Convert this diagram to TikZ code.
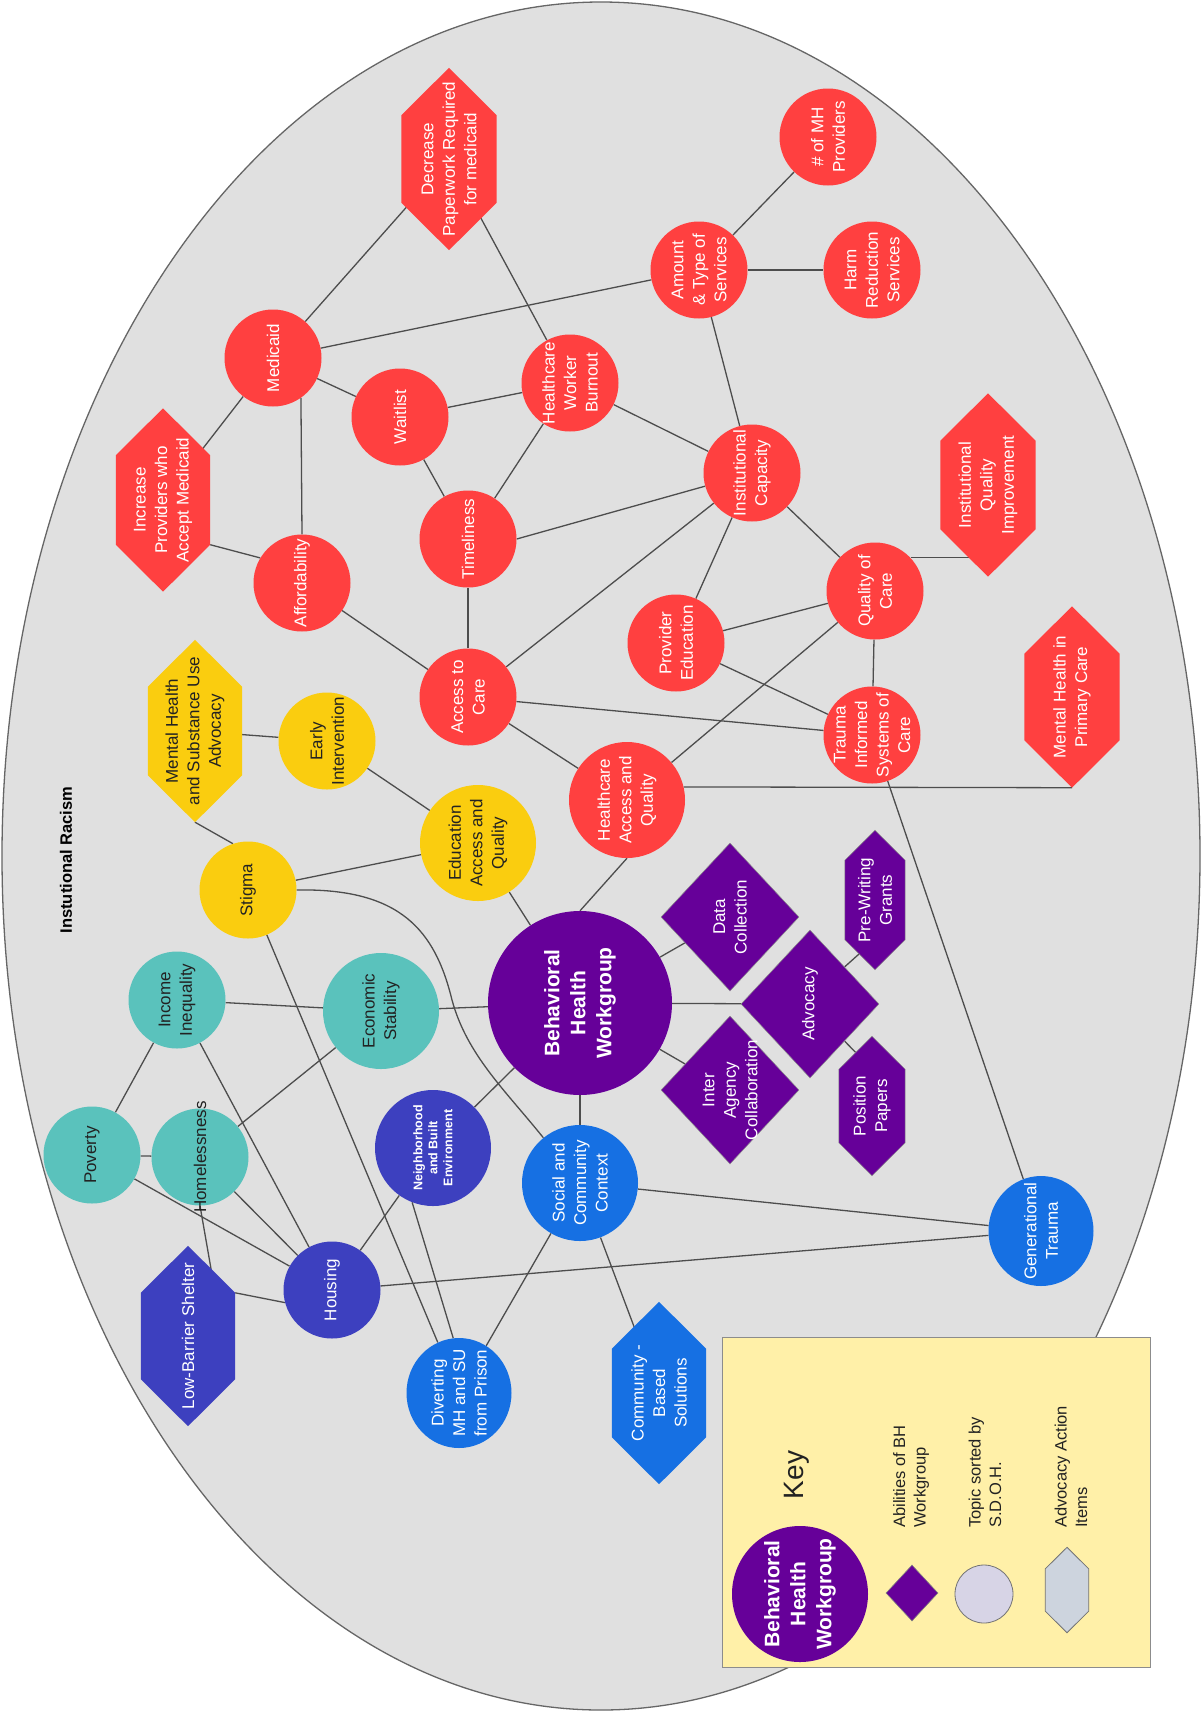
\documentclass[tikz,border=0pt]{standalone}
\usepackage{fontspec}
\setmainfont{Liberation Sans}
\usetikzlibrary{shapes.geometric,calc}
\pgfdeclarelayer{bottom}\pgfdeclarelayer{edges}\pgfdeclarelayer{shapes}
\pgfsetlayers{bottom,edges,shapes,main}
\definecolor{hred}{HTML}{FF4040}
\definecolor{hyellow}{HTML}{FACD0F}
\definecolor{hpurple}{HTML}{660099}
\definecolor{hteal}{HTML}{5AC2BC}
\definecolor{hindigo}{HTML}{3D40BF}
\definecolor{hblue}{HTML}{1670E3}
\definecolor{bggray}{HTML}{E0E0E0}
\definecolor{keyyellow}{HTML}{FFF0A8}
\definecolor{keylav}{HTML}{D7D4E6}
\definecolor{keyhex}{HTML}{CDD4DE}
\definecolor{edgegray}{HTML}{4D4D4D}
\definecolor{darktext}{HTML}{222222}
\tikzset{
  lab/.style={rotate=90, align=center, inner sep=0, font=\fontsize{17}{21.5}\selectfont},
  wl/.style={label={[lab,text=white]center:{#1}}},
  dl/.style={label={[lab,text=darktext]center:{#1}}},
  bl/.style={label={[lab,text=white,font=\bfseries\fontsize{21}{26}\selectfont]center:{#1}}},
  dot/.style={circle, inner sep=0, draw=none, minimum size=#1},
  dot/.default=97,
  dia/.style={diamond, inner sep=0, minimum width=138, minimum height=148, fill=hpurple, draw=black!45, line width=0.5pt},
  conn/.style={draw=edgegray, line width=1.3pt},
  keytext/.style={lab, anchor=west, align=left, text=darktext, font=\fontsize{16.5}{20.5}\selectfont}
}
\newcommand\hexnode[8]{%
  \node[rectangle, inner sep=0, draw=none, minimum width=#4, minimum height={#5-#4}, label={[lab,text=#7]center:{#8}}] (#1) at (#2,#3) {};
  \coordinate (#1-t) at ([yshift={#4*0.5pt}]#1.north);
  \coordinate (#1-b) at ([yshift={-#4*0.5pt}]#1.south);
  \begin{pgfonlayer}{shapes}
  \fill[#6] (#1.south west) -- (#1.north west) -- (#1-t) -- (#1.north east) -- (#1.south east) -- (#1-b) -- cycle;
  \end{pgfonlayer}
}
\begin{document}
\begin{tikzpicture}[x=1pt,y=-1pt]
\useasboundingbox (0,0) rectangle (1203,1717);
\begin{pgfonlayer}{bottom}
\fill[white] (0,0) rectangle (1203,1717);
\draw[fill=bggray, draw=black!60, line width=1.3pt] (601,856) ellipse [x radius=599, y radius=854];
\node[rectangle, anchor=north west, minimum width=428, minimum height=330, fill=keyyellow, draw=black!45, line width=1.2pt] (keybox) at (722,1337) {};
\end{pgfonlayer}

\node[rotate=90, text=black, font=\bfseries\fontsize{16.5}{20}\selectfont] (title) at (66,860) {Instutional Racism};

% red topics
\node[dot, fill=hred, wl={\# of MH\\Providers}] (mhp) at (828,137) {};
\node[dot, fill=hred, wl={Amount\\\& Type of\\Services}] (amt) at (699,270) {};
\node[dot, fill=hred, wl={Harm\\Reduction\\Services}] (harm) at (872,270) {};
\hexnode{dec}{449}{159}{95}{182}{hred}{white}{Decrease\\Paperwork Required\\for medicaid}
\node[dot, fill=hred, wl={Medicaid}] (med) at (273,358) {};
\node[dot, fill=hred, wl={Waitlist}] (wait) at (400,417) {};
\node[dot, fill=hred, wl={Healthcare\\Worker\\Burnout}] (burn) at (570,383) {};
\hexnode{inc}{163}{500}{94}{183}{hred}{white}{Increase\\Providers who\\Accept Medicaid}
\node[dot, fill=hred, wl={Affordability}] (aff) at (302,583) {};
\node[dot, fill=hred, wl={Timeliness}] (time) at (468,539) {};
\node[dot, fill=hred, wl={Access to\\Care}] (acc) at (468,697) {};
\node[dot, fill=hred, wl={Institutional\\Capacity}] (icap) at (752,473) {};
\node[dot, fill=hred, wl={Quality of\\Care}] (qoc) at (875,591) {};
\hexnode{iqi}{988}{485}{95}{183}{hred}{white}{Institutional\\Quality\\Improvement}
\node[dot, fill=hred, wl={Provider\\Education}] (pedu) at (676,643) {};
\node[dot, fill=hred, wl={Trauma\\Informed\\Systems of\\Care}] (tisc) at (872,735) {};
\hexnode{mhpc}{1072}{697}{95}{181}{hred}{white}{Mental Health in\\Primary Care}
\node[dot=116, fill=hred, wl={Healthcare\\Access and\\Quality}] (haq) at (627,800) {};

% yellow topics
\hexnode{mhsu}{195}{731}{94}{182}{hyellow}{darktext}{Mental Health\\and Substance Use\\Advocacy}
\node[dot, fill=hyellow, dl={Early\\Intervention}] (early) at (327,741) {};
\node[dot=116, fill=hyellow, dl={Education\\Access and\\Quality}] (eaq) at (478,843) {};
\node[dot, fill=hyellow, dl={Stigma}] (stig) at (248,890) {};

% purple workgroup
\node[dot=184, fill=hpurple, bl={Behavioral\\Health\\Workgroup}] (bhw) at (580,1003) {};
\node[dia, wl={Data\\Collection}] (data) at (730,917) {};
\node[dia, wl={Advocacy}] (adv) at (810,1004) {};
\node[dia, wl={Inter\\Agency\\Collaboration}] (inter) at (730,1090) {};
\hexnode{pwg}{875}{900}{60}{139}{fill=hpurple,draw=black!45,line width=0.5pt}{white}{Pre-Writing\\Grants}
\hexnode{pos}{872}{1106}{66}{139}{fill=hpurple,draw=black!45,line width=0.5pt}{white}{Position\\Papers}

% teal topics
\node[dot, fill=hteal, dl={Income\\Inequality}] (inq) at (177,1000) {};
\node[dot=116, fill=hteal, dl={Economic\\Stability}] (eco) at (381,1011) {};
\node[dot, fill=hteal, dl={Poverty}] (pov) at (92,1155) {};
\node[dot, fill=hteal, dl={Homelessness}] (home) at (200,1157) {};

% indigo topics
\node[dot=116, fill=hindigo, label={[lab,text=white,font=\bfseries\fontsize{12.5}{15}\selectfont]center:{Neighborhood\\and Built\\Environment}}] (nbe) at (433,1148) {};
\node[dot, fill=hindigo, wl={Housing}] (hous) at (332,1290) {};
\hexnode{lbs}{188}{1336}{94}{180}{hindigo}{white}{Low-Barrier Shelter}

% blue topics
\node[dot=116, fill=hblue, wl={Social and\\Community\\Context}] (scc) at (580,1183) {};
\node[ellipse, inner sep=0, minimum width=105, minimum height=110, fill=hblue, wl={Generational\\Trauma}] (gen) at (1041,1231) {};
\node[ellipse, inner sep=0, minimum width=105, minimum height=110, fill=hblue, wl={Diverting\\MH and SU\\from Prison}] (div) at (459,1393) {};
\hexnode{cbs}{659}{1393}{94}{182}{hblue}{white}{Community -\\Based\\Solutions}

% key
\node[rotate=90, text=darktext, font=\fontsize{28}{32}\selectfont] (keyt) at (797,1475) {Key};
\node[dot=136, fill=hpurple, bl={Behavioral\\Health\\Workgroup}] (kbh) at (800,1594) {};
\node[diamond, inner sep=0, minimum width=52, minimum height=56, fill=hpurple, draw=black!50, line width=0.6pt] (kdia) at (912,1593) {};
\node[dot=58, fill=keylav, draw=black!55, line width=0.8pt] (kcirc) at (984,1594) {};
\hexnode{khex}{1067}{1590}{43}{85}{fill=keyhex,draw=black!55,line width=0.8pt}{black}{}
\node[keytext] (k1) at (911,1528) {Abilities of BH\\Workgroup};
\node[keytext] (k2) at (985,1528) {Topic sorted by\\S.D.O.H.};
\node[keytext] (k3) at (1071,1528) {Advocacy Action\\Items};

\begin{pgfonlayer}{edges}
\draw[conn] (mhp) -- (amt);
\draw[conn] (amt) -- (harm);
\draw[conn] (amt) -- (med);
\draw[conn] (amt) -- (icap);
\draw[conn] (dec) -- (med);
\draw[conn] (dec) -- (burn);
\draw[conn] (med) -- (inc);
\draw[conn] (med) -- (wait);
\draw[conn] (med.-55) -- (aff.north);
\draw[conn] (wait) -- (burn);
\draw[conn] (wait) -- (time);
\draw[conn] (burn) -- (time);
\draw[conn] (burn) -- (icap);
\draw[conn] (time.east) -- (icap);
\draw[conn] (icap) -- (acc);
\draw[conn] (icap) -- (pedu);
\draw[conn] (icap) -- (qoc);
\draw[conn] (qoc.43) -- (qoc.43 -| iqi.center);
\draw[conn] (qoc) -- (pedu);
\draw[conn] (qoc) -- (tisc);
\draw[conn] (qoc) -- (haq);
\draw[conn] (pedu) -- (tisc);
\draw[conn] (acc) -- (tisc);
\draw[conn] (acc) -- (time);
\draw[conn] (acc) -- (aff);
\draw[conn] (acc) -- (haq);
\draw[conn] (inc.south east) -- (aff.149);
\draw[conn] (haq.13) -- (mhpc-b);
\draw[conn] (haq.south) -- (bhw.north);
\draw[conn] (tisc) -- (gen);
\draw[conn] (mhsu) -- (early);
\draw[conn] (mhsu-b) -- (stig.108);
\draw[conn] (early) -- (eaq);
\draw[conn] (eaq) -- (stig);
\draw[conn] (eaq) -- (bhw);
\draw[conn] (stig.east) .. controls (400,888) and (435,930) .. (452,1000) .. controls (467,1055) and (505,1090) .. (scc.129);
\draw[conn] (stig) -- (div);
\draw[conn] (inq) -- (eco);
\draw[conn] (inq) -- (pov);
\draw[conn] (inq) -- (hous);
\draw[conn] (eco) -- (bhw);
\draw[conn] (eco) -- (home);
\draw[conn] (pov) -- (home);
\draw[conn] (pov) -- (hous);
\draw[conn] (home) -- (hous);
\draw[conn] (home.south) -- ([xshift=-20pt]lbs.north east);
\draw[conn] (lbs.north east) -- (hous.195);
\draw[conn] (bhw) -- (nbe);
\draw[conn] (bhw) -- (scc);
\draw[conn] (bhw) -- (data);
\draw[conn] (bhw) -- (adv);
\draw[conn] (bhw) -- (inter);
\draw[conn] (adv.north east) -- (pwg.south);
\draw[conn] (adv.south east) -- (pos.north);
\draw[conn] (nbe) -- (hous);
\draw[conn] (nbe.249) -- (div.96);
\draw[conn] (hous) -- (gen);
\draw[conn] (scc) -- (gen);
\draw[conn] (scc) -- (div);
\draw[conn] (scc) -- (cbs);
\end{pgfonlayer}
\end{tikzpicture}
\end{document}
